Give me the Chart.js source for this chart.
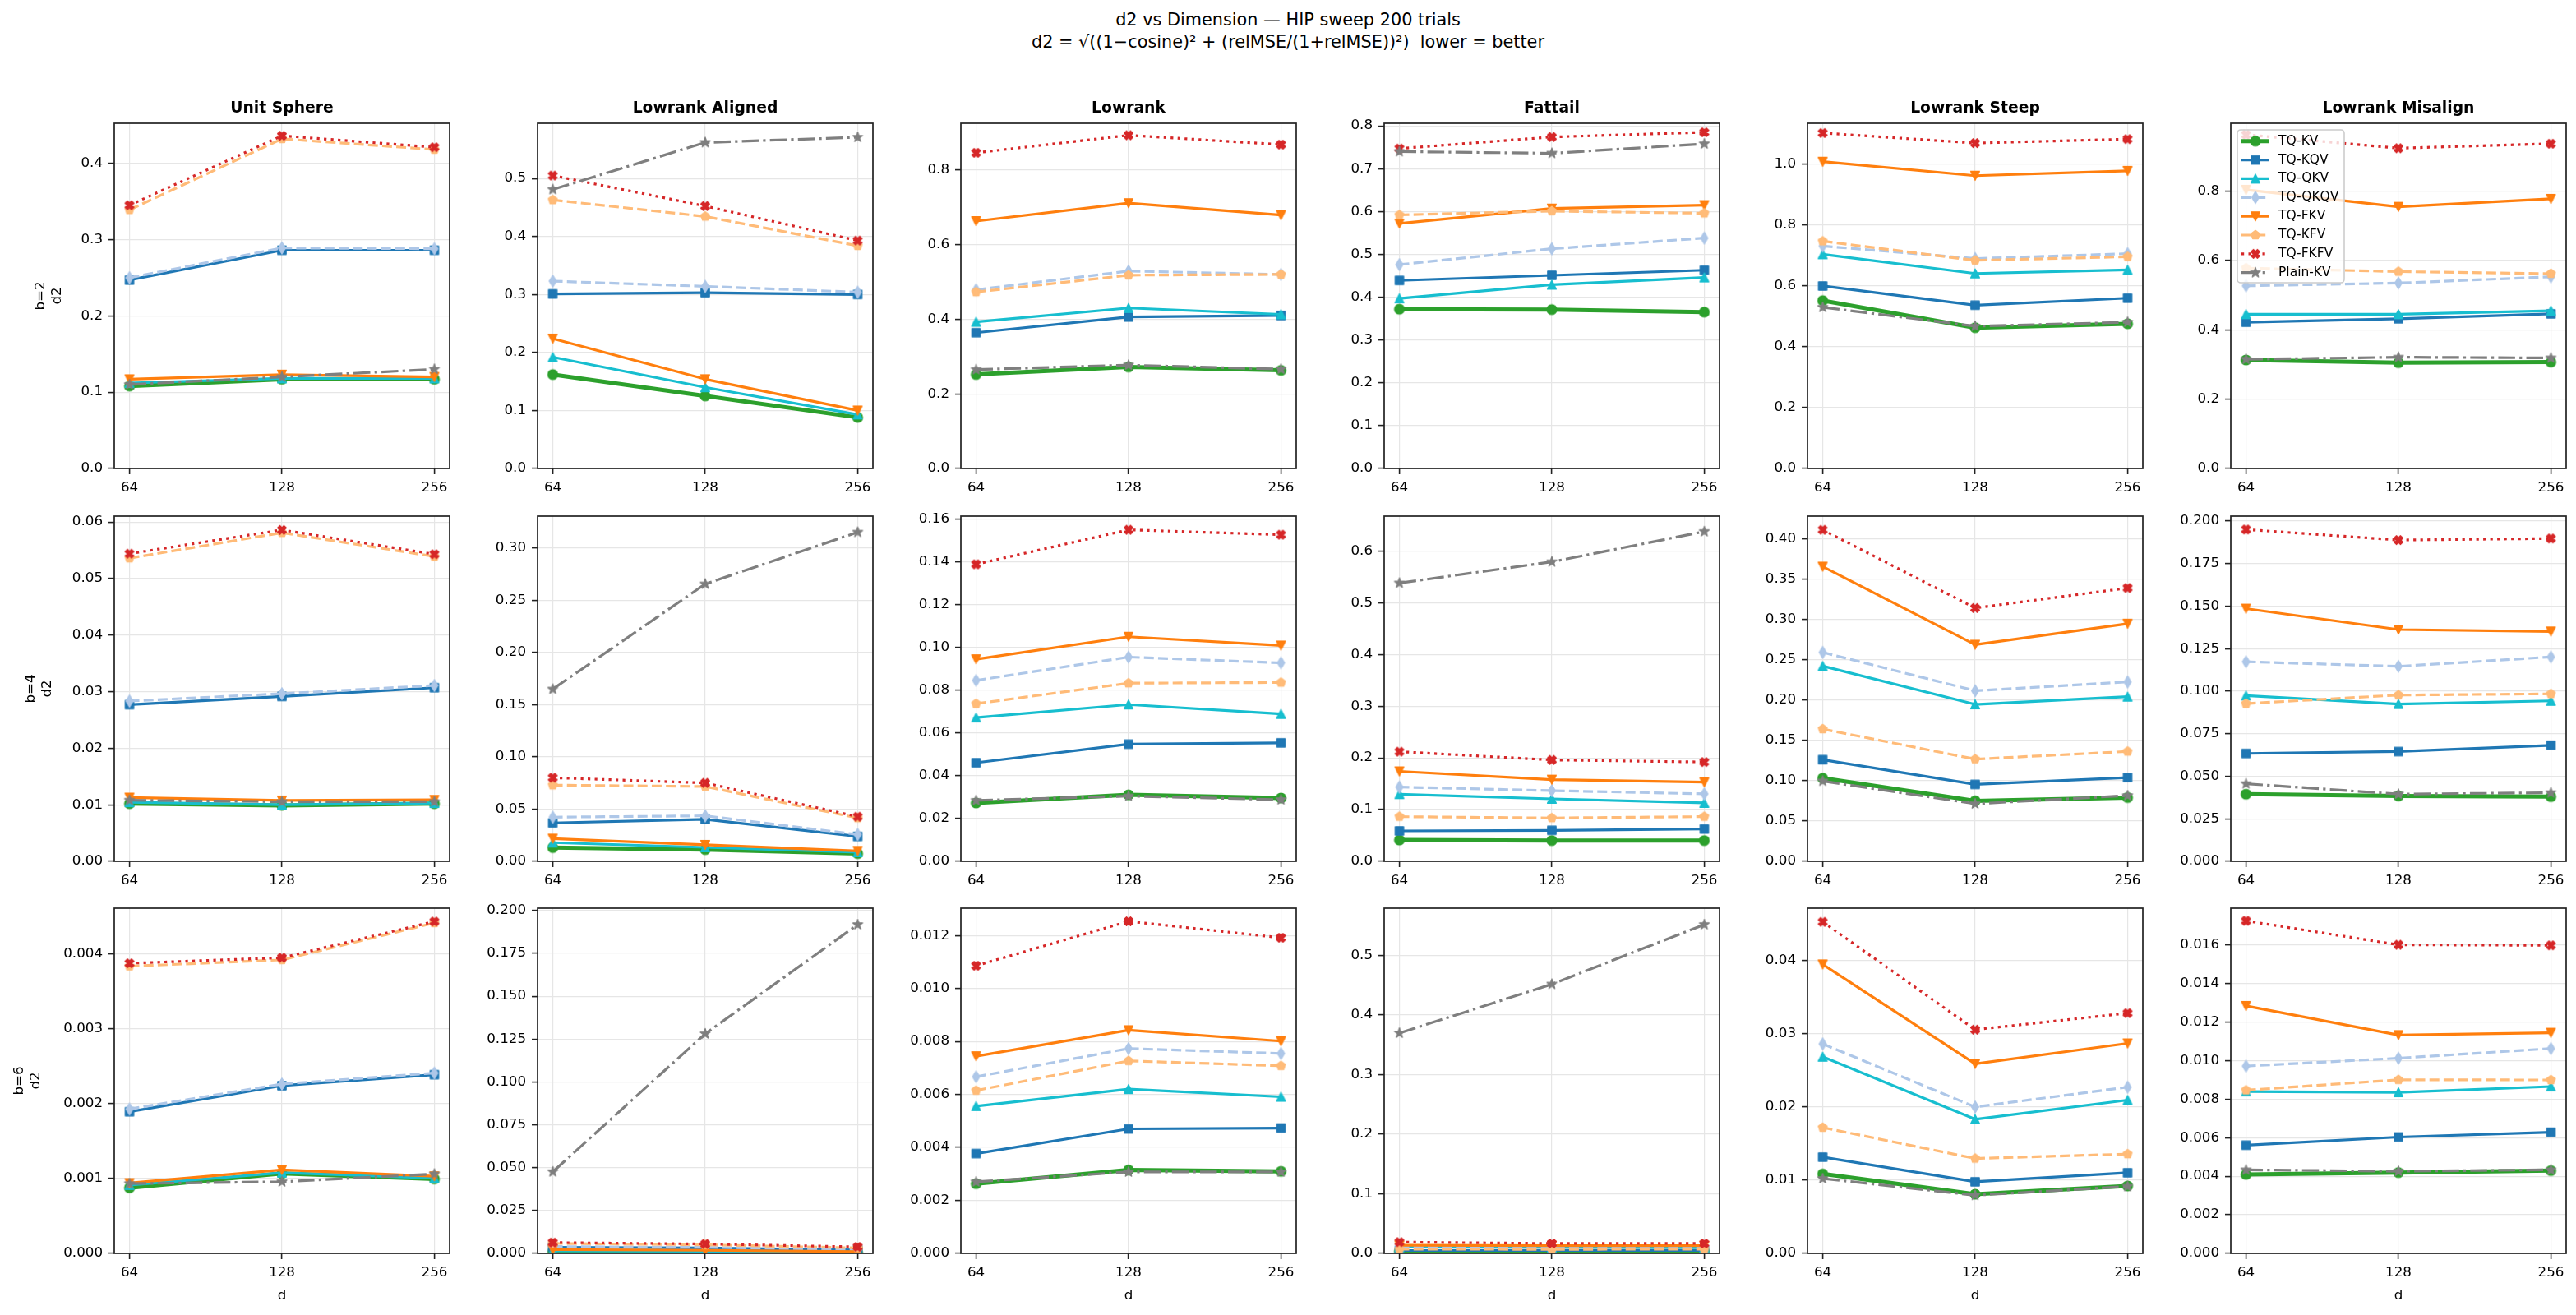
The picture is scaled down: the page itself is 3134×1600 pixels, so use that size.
<!DOCTYPE html>
<html>
<head>
<meta charset="utf-8">
<script src="https://cdn.jsdelivr.net/npm/chart.js@4.4.1/dist/chart.umd.min.js"></script>
<style>
html,body{margin:0;padding:0;background:#fff;}
body{width:3134px;height:1600px;position:relative;overflow:hidden;font-family:"DejaVu Sans",sans-serif;}
.sup{position:absolute;left:0;top:11px;width:3134px;text-align:center;font-size:20.8px;line-height:27px;color:#000;}
.panel{position:absolute;}
.panel canvas{display:block;}
</style>
</head>
<body>
<div class="sup">d2 vs Dimension — HIP sweep 200 trials<br>d2 = √((1−cosine)² + (relMSE/(1+relMSE))²)&nbsp; lower = better</div>
<script>
// ---------------- data ----------------
const dims = [64, 128, 256];
const bits = [2, 4, 6];
const distributions = ['Unit Sphere', 'Lowrank Aligned', 'Lowrank', 'Fattail', 'Lowrank Steep', 'Lowrank Misalign'];
const methods = ['TQ-KV', 'TQ-KQV', 'TQ-QKV', 'TQ-QKQV', 'TQ-FKV', 'TQ-KFV', 'TQ-FKFV', 'Plain-KV'];

// values[bitRow][distribution] = [d=64, d=128, d=256]
const tqKV = [
  [[0.108,0.117,0.117],[0.162,0.125,0.088],[0.252,0.272,0.263],[0.372,0.371,0.365],[0.551,0.462,0.475],[0.313,0.305,0.307]],
  [[0.0102,0.0099,0.0102],[0.0131,0.0113,0.0074],[0.0273,0.0311,0.0296],[0.0413,0.0403,0.0403],[0.1031,0.0750,0.0791],[0.0395,0.0384,0.0380]],
  [[0.000876,0.001067,0.000994],[0.0010,0.0008,0.0004],[0.002629,0.003147,0.003095],[0.0034,0.0033,0.0033],[0.01085,0.00808,0.0092],[0.00409,0.00419,0.00429]]
];
const tqKQV = [
  [[0.247,0.286,0.286],[0.301,0.303,0.300],[0.364,0.406,0.410],[0.439,0.451,0.463],[0.599,0.536,0.559],[0.422,0.432,0.446]],
  [[0.0277,0.02916,0.0307],[0.0368,0.0402,0.0239],[0.0461,0.0548,0.0554],[0.0588,0.0599,0.0625],[0.126,0.0954,0.1039],[0.0634,0.0645,0.0682]],
  [[0.001892,0.00224,0.002387],[0.0036,0.0032,0.0020],[0.003768,0.0047,0.00473],[0.0048,0.0049,0.0050],[0.01313,0.00977,0.0110],[0.00561,0.00603,0.00628]]
];
const tqQKV = [
  [[0.112,0.118,0.118],[0.192,0.140,0.093],[0.393,0.430,0.413],[0.397,0.429,0.446],[0.703,0.640,0.652],[0.445,0.445,0.455]],
  [[0.01044,0.0100,0.0103],[0.0179,0.0134,0.0087],[0.0672,0.0733,0.0689],[0.1298,0.1208,0.1129],[0.2421,0.1946,0.2041],[0.0974,0.0924,0.0943]],
  [[0.000913,0.001078,0.001005],[0.0015,0.0012,0.0007],[0.005559,0.0062,0.00591],[0.0105,0.0100,0.0095],[0.02683,0.0183,0.02092],[0.00839,0.00835,0.00865]]
];
const tqQKQV = [
  [[0.250,0.289,0.288],[0.323,0.314,0.304],[0.479,0.529,0.520],[0.476,0.513,0.538],[0.730,0.689,0.705],[0.527,0.535,0.553]],
  [[0.02834,0.02964,0.0311],[0.0423,0.0436,0.0257],[0.0846,0.0955,0.0928],[0.1436,0.1367,0.1304],[0.2591,0.2115,0.2224],[0.1173,0.1146,0.1201]],
  [[0.001928,0.002262,0.002409],[0.0040,0.0035,0.0022],[0.006667,0.007733,0.007547],[0.0110,0.0105,0.0100],[0.02859,0.01998,0.02268],[0.00971,0.01012,0.01062]]
];
const tqFKV = [
  [[0.117,0.123,0.120],[0.224,0.154,0.100],[0.663,0.711,0.679],[0.572,0.607,0.615],[1.007,0.961,0.977],[0.804,0.755,0.778]],
  [[0.01127,0.01077,0.01087],[0.0218,0.0158,0.0100],[0.0945,0.1050,0.1009],[0.174,0.158,0.153],[0.3654,0.2686,0.2947],[0.1485,0.1362,0.1351]],
  [[0.000939,0.001115,0.00103],[0.0022,0.0018,0.0010],[0.007443,0.008426,0.008012],[0.0135,0.0130,0.0128],[0.03944,0.02586,0.02866],[0.01283,0.01132,0.01144]]
];
const tqKFV = [
  [[0.339,0.432,0.418],[0.463,0.4345,0.384],[0.473,0.518,0.520],[0.592,0.601,0.596],[0.746,0.683,0.695],[0.578,0.568,0.562]],
  [[0.0536,0.0581,0.0539],[0.0730,0.0717,0.0415],[0.0737,0.0833,0.0836],[0.0864,0.0838,0.0864],[0.164,0.1267,0.1362],[0.0927,0.0977,0.0984]],
  [[0.003835,0.00392,0.004414],[0.0058,0.0050,0.0032],[0.006149,0.007267,0.007081],[0.0070,0.0068,0.0070],[0.01717,0.01295,0.01355],[0.00846,0.0090,0.00899]]
];
const tqFKFV = [
  [[0.345,0.436,0.421],[0.505,0.4525,0.393],[0.846,0.893,0.868],[0.747,0.774,0.785],[1.101,1.068,1.081],[0.963,0.924,0.937]],
  [[0.0544,0.0586,0.0543],[0.0801,0.0751,0.0428],[0.1389,0.155,0.1527],[0.212,0.196,0.192],[0.411,0.3141,0.3389],[0.195,0.1888,0.1897]],
  [[0.003875,0.003949,0.004433],[0.0063,0.0055,0.0038],[0.010859,0.012536,0.011915],[0.0189,0.0166,0.0166],[0.04524,0.03053,0.03278],[0.01724,0.0160,0.01597]]
];
const plainKV = [
  [[0.110,0.120,0.130],[0.481,0.562,0.571],[0.265,0.277,0.266],[0.740,0.736,0.758],[0.529,0.467,0.480],[0.315,0.321,0.319]],
  [[0.0108,0.01054,0.01054],[0.165,0.2657,0.3153],[0.0285,0.0305,0.0288],[0.538,0.579,0.6375],[0.0995,0.0713,0.0815],[0.0456,0.0395,0.0403]],
  [[0.000931,0.000957,0.00106],[0.0476,0.1281,0.1918],[0.002702,0.003075,0.003075],[0.3695,0.4516,0.5517],[0.01021,0.00793,0.00913],[0.00433,0.00426,0.00433]]
];
const seriesValues = [tqKV, tqKQV, tqQKV, tqQKQV, tqFKV, tqKFV, tqFKFV, plainKV];

// y tick steps per [bitRow][distribution]
const yTickSteps = [
  [0.1, 0.1, 0.2, 0.1, 0.2, 0.2],
  [0.01, 0.05, 0.02, 0.1, 0.05, 0.025],
  [0.001, 0.025, 0.002, 0.1, 0.01, 0.002]
];

// ---------------- styles ----------------
const seriesStyles = [
  {color:'#2ca02c', width:5,   dash:[],                 marker:'circle'},
  {color:'#1f77b4', width:3.2, dash:[],                 marker:'square'},
  {color:'#17becf', width:3.2, dash:[],                 marker:'triUp'},
  {color:'#aec7e8', width:3.2, dash:[12,5.2],           marker:'thinDiamond'},
  {color:'#ff7f0e', width:3.2, dash:[],                 marker:'triDown'},
  {color:'#ffbb78', width:3.2, dash:[12,5.2],           marker:'pentagon'},
  {color:'#d62728', width:3.2, dash:[3.2,5.3],          marker:'xFilled'},
  {color:'#7f7f7f', width:3.2, dash:[20.5,5.2,3.2,5.2], marker:'star'}
];

function markerCanvas(kind, color) {
  const S = 24;
  const c = document.createElement('canvas');
  c.width = S; c.height = S;
  const g = c.getContext('2d');
  g.translate(S / 2, S / 2);
  g.fillStyle = color; g.strokeStyle = color; g.lineWidth = 1.4; g.lineJoin = 'round';
  g.beginPath();
  if (kind === 'circle') {
    g.arc(0, 0, 5.9, 0, Math.PI * 2);
  } else if (kind === 'square') {
    g.rect(-5.1, -5.1, 10.2, 10.2);
  } else if (kind === 'triUp') {
    g.moveTo(0, -5.4); g.lineTo(5.4, 5.2); g.lineTo(-5.4, 5.2); g.closePath();
  } else if (kind === 'triDown') {
    g.moveTo(0, 5.4); g.lineTo(5.4, -5.2); g.lineTo(-5.4, -5.2); g.closePath();
  } else if (kind === 'thinDiamond') {
    g.moveTo(0, -7.2); g.lineTo(4.4, 0); g.lineTo(0, 7.2); g.lineTo(-4.4, 0); g.closePath();
  } else if (kind === 'pentagon') {
    for (let k = 0; k < 5; k++) {
      const a = -Math.PI / 2 + k * 2 * Math.PI / 5;
      const px = 5.6 * Math.cos(a), py = 5.6 * Math.sin(a);
      if (k === 0) g.moveTo(px, py); else g.lineTo(px, py);
    }
    g.closePath();
  } else if (kind === 'xFilled') {
    g.save(); g.rotate(Math.PI / 4);
    g.rect(-5.5, -2.1, 11, 4.2);
    g.rect(-2.1, -5.5, 4.2, 11);
    g.restore();
  } else if (kind === 'star') {
    for (let k = 0; k < 10; k++) {
      const a = -Math.PI / 2 + k * Math.PI / 5;
      const r = (k % 2 === 0) ? 6.3 : 2.5;
      const px = r * Math.cos(a), py = r * Math.sin(a);
      if (k === 0) g.moveTo(px, py); else g.lineTo(px, py);
    }
    g.closePath();
  }
  g.fill(); g.stroke();
  return c;
}
const markerImages = seriesStyles.map(s => markerCanvas(s.marker, s.color));

// ---------------- plugins ----------------
const framePlugin = {
  id: 'axFrame',
  afterDatasetsDraw(chart) {
    const a = chart.chartArea, ctx = chart.ctx;
    ctx.save();
    ctx.strokeStyle = '#222';
    ctx.lineWidth = 1.7;
    ctx.strokeRect(a.left, a.top, a.right - a.left, a.bottom - a.top);
    ctx.restore();
  }
};
const boxLegendPlugin = {
  id: 'boxLegend',
  afterDraw(chart, args, opts) {
    if (!opts || !opts.show) return;
    const ctx = chart.ctx, a = chart.chartArea;
    const x0 = a.left + 8, y0 = a.top + 8, w = 130, h = 186, rowH = 22.86;
    ctx.save();
    ctx.beginPath();
    if (ctx.roundRect) ctx.roundRect(x0, y0, w, h, 4); else ctx.rect(x0, y0, w, h);
    ctx.fillStyle = 'rgba(255,255,255,0.8)';
    ctx.fill();
    ctx.strokeStyle = '#cccccc';
    ctx.lineWidth = 1.6;
    ctx.stroke();
    methods.forEach((name, i) => {
      const st = seriesStyles[i];
      const cy = y0 + 13.7 + i * rowH;
      ctx.beginPath();
      ctx.setLineDash(st.dash);
      ctx.strokeStyle = st.color;
      ctx.lineWidth = st.width;
      ctx.moveTo(x0 + 5, cy); ctx.lineTo(x0 + 39, cy);
      ctx.stroke();
      ctx.setLineDash([]);
      const img = markerImages[i];
      ctx.drawImage(img, x0 + 22 - img.width / 2, cy - img.height / 2);
      ctx.fillStyle = '#000';
      ctx.font = '15.5px "DejaVu Sans", sans-serif';
      ctx.textBaseline = 'middle';
      ctx.textAlign = 'left';
      ctx.fillText(name, x0 + 50, cy);
    });
    ctx.restore();
  }
};

// ---------------- layout ----------------
Chart.defaults.font.family = '"DejaVu Sans", sans-serif';
Chart.defaults.color = '#000';

const plotLeft0 = 139, colStep = 515, plotW = 408, plotH = 420;
const plotTops = [150, 628, 1105];
const AXW = 135, TOPH = 33, BOTH = 70, PADR = 30;
const ylabelPad = [36, 24, 10];

const span = dims[dims.length - 1] / dims[0];
const xMin = dims[0] * Math.pow(span, -0.05);
const xMax = dims[dims.length - 1] * Math.pow(span, 0.05);

for (let r = 0; r < bits.length; r++) {
  for (let c = 0; c < distributions.length; c++) {
    const wrap = document.createElement('div');
    wrap.className = 'panel';
    wrap.style.left = (plotLeft0 + c * colStep - AXW) + 'px';
    wrap.style.top = (plotTops[r] - TOPH) + 'px';
    const cv = document.createElement('canvas');
    cv.width = AXW + plotW + PADR;
    cv.height = TOPH + plotH + BOTH;
    wrap.appendChild(cv);
    document.body.appendChild(wrap);

    let all = [];
    seriesValues.forEach(sv => { all = all.concat(sv[r][c]); });
    const dmax = Math.max(...all), dmin = Math.min(...all);
    const yTop = dmax + 0.05 * (dmax - dmin);
    const step = yTickSteps[r][c];
    const dec = (String(step).split('.')[1] || '').length;
    const showTitle = r === 0;

    const datasets = methods.map((name, i) => ({
      label: name,
      data: dims.map((d, k) => ({x: d, y: seriesValues[i][r][c][k]})),
      borderColor: seriesStyles[i].color,
      backgroundColor: seriesStyles[i].color,
      borderWidth: seriesStyles[i].width,
      borderDash: seriesStyles[i].dash,
      borderJoinStyle: 'round',
      borderCapStyle: 'butt',
      pointStyle: markerImages[i],
      pointRadius: 5,
      pointHoverRadius: 5,
      tension: 0,
      fill: false,
      order: methods.length - i
    }));

    new Chart(cv, {
      type: 'line',
      data: {datasets},
      options: {
        responsive: false,
        animation: false,
        devicePixelRatio: 1,
        events: [],
        layout: {padding: {left: 0, top: showTitle ? 0 : TOPH, right: PADR, bottom: 0}},
        plugins: {
          legend: {display: false},
          tooltip: {enabled: false},
          title: {
            display: showTitle,
            text: distributions[c],
            fullSize: false,
            color: '#000',
            font: {size: 18.75, weight: 'bold', lineHeight: '22px'},
            padding: {top: 4, bottom: 7}
          },
          boxLegend: {show: r === 0 && c === distributions.length - 1}
        },
        scales: {
          x: {
            type: 'logarithmic',
            min: xMin,
            max: xMax,
            bounds: 'data',
            afterBuildTicks: s => { s.ticks = dims.map(v => ({value: v})); },
            afterFit: s => { s.height = BOTH; },
            ticks: {
              autoSkip: false, maxRotation: 0, minRotation: 0, padding: 7,
              color: '#000', font: {size: 16.7},
              callback: v => String(v)
            },
            grid: {color: '#e6e6e6', lineWidth: 1.2, tickLength: 7, tickColor: '#222', tickWidth: 1.6},
            border: {display: false},
            title: {
              display: r === bits.length - 1,
              text: 'd',
              color: '#000',
              font: {size: 16.7, lineHeight: '20px'},
              padding: {top: 0, bottom: 8}
            }
          },
          y: {
            type: 'linear',
            min: 0,
            max: yTop,
            bounds: 'data',
            afterBuildTicks: s => {
              const t = [];
              for (let k = 0; k * step <= yTop + 1e-12; k++) t.push({value: +(k * step).toFixed(10)});
              s.ticks = t;
            },
            afterFit: s => { s.width = AXW; },
            ticks: {
              padding: 7, color: '#000', font: {size: 16.7},
              callback: v => Number(v).toFixed(dec)
            },
            grid: {color: '#e6e6e6', lineWidth: 1.2, tickLength: 7, tickColor: '#222', tickWidth: 1.6},
            border: {display: false},
            title: {
              display: c === 0,
              text: ['b=' + bits[r], 'd2'],
              color: '#000',
              font: {size: 16.7, lineHeight: '20px'},
              padding: {top: ylabelPad[r], bottom: 0}
            }
          }
        }
      },
      plugins: [framePlugin, boxLegendPlugin]
    });
  }
}
</script>
</body>
</html>
